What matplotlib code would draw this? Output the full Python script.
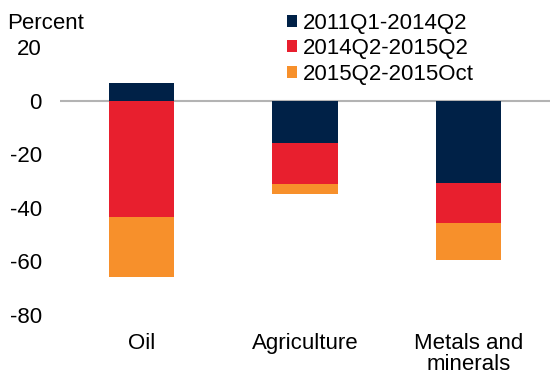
import numpy as np
import matplotlib.pyplot as plt

plt.rcParams['font.family'] = ['Liberation Sans', 'DejaVu Sans']
plt.rcParams['axes.unicode_minus'] = False

categories = ['Oil', 'Agriculture', 'Metals and\nminerals']
series = ['2011Q1-2014Q2', '2014Q2-2015Q2', '2015Q2-2015Oct']
p1 = [6.5, -15.9, -30.8]
p2 = [-43.3, -15.3, -14.7]
p3 = [-22.4, -3.7, -14.0]
colors = ['#002147', '#E81F2E', '#F7902B']

fig = plt.figure(figsize=(5.5, 3.75), dpi=100)
ax = fig.add_axes([0.109, 0.16, 0.891, 0.7147])

x = np.arange(len(categories))
w = 0.4

# positive and negative parts stack separately
pos = np.zeros(len(x))
neg = np.zeros(len(x))
for vals, c, lab in zip([p1, p2, p3], colors, series):
    vals = np.array(vals)
    bottom = np.where(vals >= 0, pos, neg)
    ax.bar(x, vals, w, bottom=bottom, color=c, label=lab, zorder=2)
    pos = pos + np.where(vals >= 0, vals, 0)
    neg = neg + np.where(vals < 0, vals, 0)

ax.axhline(0, color='#b3b3b3', lw=1.5, zorder=1)
ax.set_xlim(-0.5, 2.5)
ax.set_ylim(-80, 20)
ax.set_yticks([20, 0, -20, -40, -60, -80])
ax.set_xticks(x)
ax.set_xticklabels(categories, fontsize=16, linespacing=1.0)
ax.tick_params(axis='x', length=0, pad=13)
ax.tick_params(axis='y', length=0, pad=13, labelsize=16)
for s in ax.spines.values():
    s.set_visible(False)

fig.text(0.013, 0.937, 'Percent', fontsize=16, va='center', ha='left')

leg = fig.legend(loc='upper left', bbox_to_anchor=(0.505, 0.99), frameon=False,
                 fontsize=16, handlelength=0.45, handleheight=0.45,
                 handletextpad=0.3, labelspacing=0.21, borderaxespad=0)

fig.savefig('out.png', dpi=100)
